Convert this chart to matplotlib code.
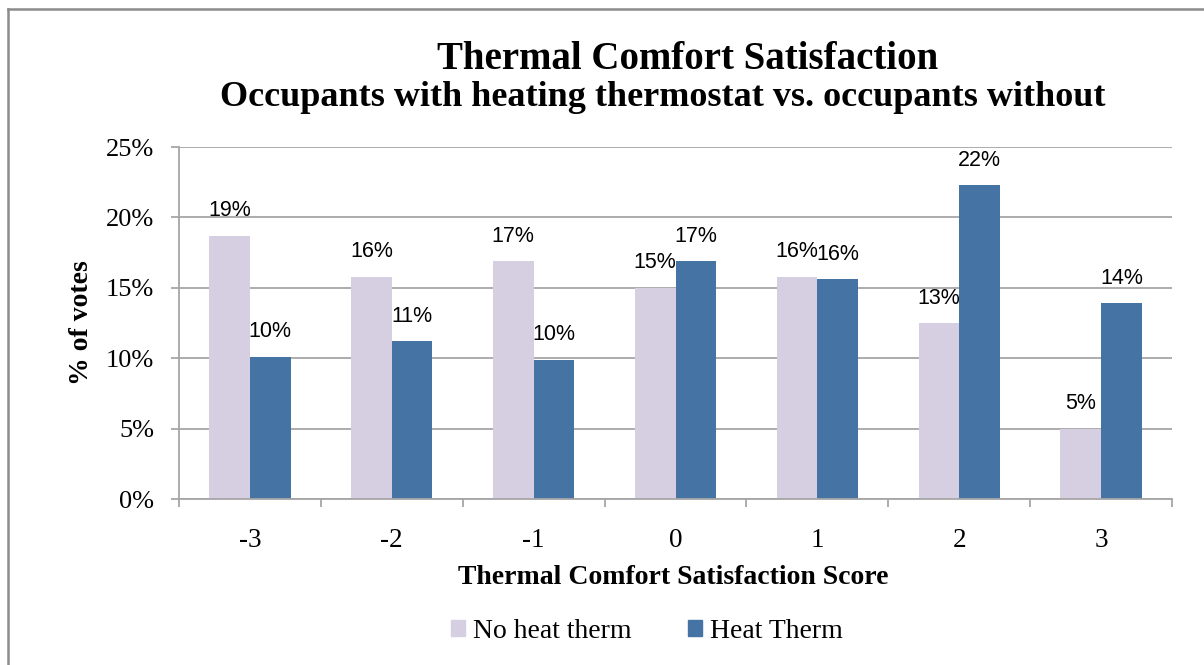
import matplotlib
matplotlib.use('Agg')
import matplotlib.pyplot as plt
from matplotlib.lines import Line2D
from matplotlib.patches import Patch
import numpy as np

scores = ['-3', '-2', '-1', '0', '1', '2', '3']
no_heat_therm = [18.7, 15.8, 16.9, 15.0, 15.8, 12.5, 5.0]
heat_therm = [10.1, 11.2, 9.9, 16.9, 15.6, 22.3, 13.9]
series_names = ['No heat therm', 'Heat Therm']
y_ticks = [0, 5, 10, 15, 20, 25]

light = '#D6CEE1'
blue = '#4573A4'
grey = '#A6A6A6'
serif = 'Liberation Serif'
sans = 'Liberation Sans'


def add_labels(ax, xs, values):
    for x, v in zip(xs, values):
        ax.annotate(str(int(round(v + 1e-9))) + '%', (x, v), xytext=(0, 14),
                    textcoords='offset points', ha='center', va='baseline',
                    fontsize=15.5, family=sans, color='black')


def main():
    fig = plt.figure(figsize=(12.04, 6.65), dpi=100)
    ax = fig.add_axes([179 / 1204, 1 - 499 / 665, 993 / 1204, 352 / 665])

    x = np.arange(len(scores))
    w = 0.287
    ax.bar(x - w / 2, no_heat_therm, w, color=light, zorder=3)
    ax.bar(x + w / 2, heat_therm, w, color=blue, zorder=3)
    add_labels(ax, x - w / 2, no_heat_therm)
    add_labels(ax, x + w / 2, heat_therm)

    ax.set_xlim(-0.5, len(scores) - 0.5)
    ax.set_ylim(0, 25)
    ax.set_yticks(y_ticks)
    ax.set_yticklabels([str(t) + '%' for t in y_ticks], family=serif, fontsize=19)
    ax.set_xticks(x)
    ax.set_xticklabels(scores, family=serif, fontsize=19.5)
    ax.set_xticks(np.arange(len(scores) + 1) - 0.5, minor=True)
    ax.tick_params(axis='x', which='major', length=0, pad=21)
    ax.tick_params(axis='x', which='minor', length=6, width=1.3, color=grey)
    ax.tick_params(axis='y', length=6, width=1.3, color=grey, pad=12)

    ax.grid(axis='y', color=grey, lw=1.3, zorder=0)
    for s in ['top', 'right']:
        ax.spines[s].set_visible(False)
    for s in ['left', 'bottom']:
        ax.spines[s].set_color(grey)
        ax.spines[s].set_linewidth(1.3)
        ax.spines[s].set_zorder(4)

    fig.text(0.5715, 1 - 69 / 665, 'Thermal Comfort Satisfaction', ha='center', va='baseline',
             family=serif, fontweight='bold', fontsize=28)
    fig.text(663 / 1204, 1 - 106 / 665, 'Occupants with heating thermostat vs. occupants without',
             ha='center', va='baseline', family=serif, fontweight='bold', fontsize=26)
    fig.text(673 / 1204, 1 - 584 / 665, 'Thermal Comfort Satisfaction Score', ha='center',
             va='baseline', family=serif, fontweight='bold', fontsize=20)
    fig.text(82 / 1204, 1 - 323 / 665, '% of votes', ha='center', va='center', rotation=90,
             family=serif, fontweight='bold', fontsize=20)

    handles = [Patch(color=light), Patch(color=blue)]
    fig.legend(handles, series_names, loc='center', bbox_to_anchor=(647 / 1204, 1 - 631 / 665),
               ncol=2, frameon=False, prop={'family': serif, 'size': 20},
               handlelength=0.5, handleheight=0.5, handletextpad=0.3, columnspacing=2.0)

    # outer chart frame (cropped on the right and bottom)
    fx = 8 / 1204
    fy = 1 - 9 / 665
    fig.add_artist(Line2D([fx, fx], [0, fy], color='#8C8C8C', lw=1.8))
    fig.add_artist(Line2D([fx, 1], [fy, fy], color='#8C8C8C', lw=1.8))

    fig.savefig('out.png', dpi=100)


main()
